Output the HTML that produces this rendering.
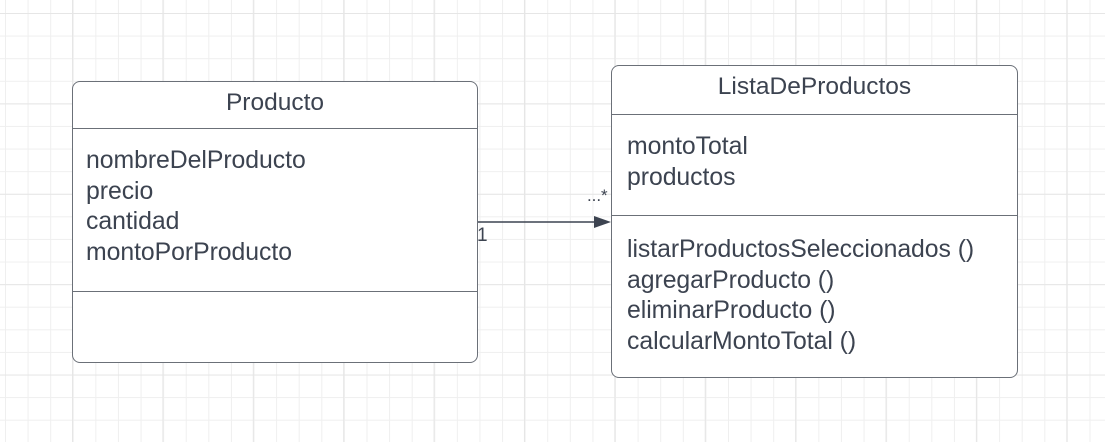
<!DOCTYPE html>
<html><head><meta charset="utf-8"><style>
html,body{margin:0;padding:0}
body{width:1105px;height:442px;overflow:hidden;position:relative;background:#fff;
background-image:
linear-gradient(to right,#e6e6e6 1px,transparent 1px),
linear-gradient(to bottom,#e6e6e6 1px,transparent 1px),
linear-gradient(to right,#efefef 1px,transparent 1px),
linear-gradient(to bottom,#efefef 1px,transparent 1px);
background-size:90.4px 90.4px,90.4px 90.4px,22.6px 22.6px,22.6px 22.6px;
background-position:72px 0,0 13px,5px 0,0 13px;
font-family:"Liberation Sans",sans-serif;color:#3c4350}
.box{position:absolute;border:1.5px solid #6b7078;border-radius:8px;background:#fff;box-sizing:border-box}
.hd{position:absolute;left:0;right:0;text-align:center;font-size:24.5px}
.div{position:absolute;left:0;right:0;height:0;border-top:1.5px solid #6b7078}
.t{position:absolute;font-size:24.8px;line-height:30.5px;white-space:nowrap;letter-spacing:-0.05px}
</style></head><body>
<div class="box" style="left:72px;top:81px;width:406px;height:282px">
 <div class="hd" style="top:7px">Producto</div>
 <div class="div" style="top:46px"></div>
 <div class="t" style="left:13px;top:64px">nombreDelProducto<br>precio<br>cantidad<br>montoPorProducto</div>
 <div class="div" style="top:209px"></div>
</div>
<div class="box" style="left:611px;top:65px;width:407px;height:313px">
 <div class="hd" style="top:7px">ListaDeProductos</div>
 <div class="div" style="top:48px"></div>
 <div class="t" style="left:15px;top:66px">montoTotal<br>productos</div>
 <div class="div" style="top:149px"></div>
 <div class="t" style="left:15px;top:169px">listarProductosSeleccionados ()<br>agregarProducto ()<br>eliminarProducto ()<br>calcularMontoTotal ()</div>
</div>
<svg style="position:absolute;left:0;top:0" width="1105" height="442">
<line x1="478" y1="222" x2="596" y2="222" stroke="#3c4350" stroke-width="1.5"/>
<polygon points="594,216 611,222 594,228" fill="#3c4350"/>
</svg>
<div class="t" style="left:477px;top:225px;font-size:19px;line-height:22px">1</div>
<div class="t" style="left:587px;top:186px;font-size:17px;line-height:20px">...*</div>
</body></html>
